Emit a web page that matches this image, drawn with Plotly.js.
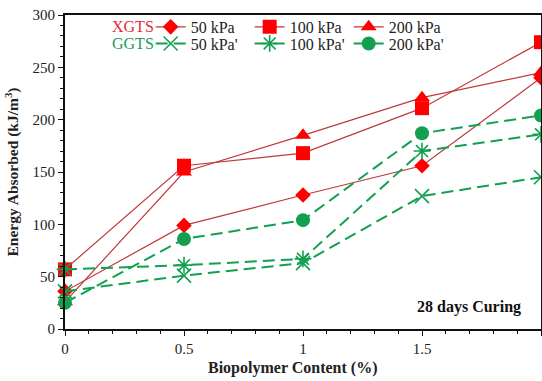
<!DOCTYPE html>
<html>
<head>
<meta charset="utf-8">
<script src="https://cdn.plot.ly/plotly-3.0.1.min.js"></script>
<style>html,body{margin:0;padding:0;background:#fff;}#chart{width:542px;height:381px;}</style>
</head>
<body>
<div id="chart"></div>
<script>
// Data
var content = [0, 0.5, 1, 1.5, 2];
var xg50  = [36, 99, 128, 156, 240];
var xg100 = [57, 156, 168, 211, 274];
var xg200 = [26, 150, 185, 221, 245];
var gg50  = [36, 51, 63, 127, 145];
var gg100 = [57, 61, 67, 170, 186];
var gg200 = [25, 86, 104, 187, 204];
var seriesNames = ['50 kPa', '100 kPa', '200 kPa', "50 kPa'", "100 kPa'", "200 kPa'"];
var groupLabels = ['XGTS', 'GGTS'];

var RED = '#ff0000', REDLINE = '#c0393b', GREEN = '#12a050';
var FONT = 'Liberation Serif, Times New Roman, serif';

function xTrace(y, name, sym, size) {
  return {x: content, y: y, name: name, type: 'scatter', mode: 'lines+markers',
    legend: 'legend', cliponaxis: false,
    line: {color: REDLINE, width: 1.2},
    marker: {symbol: sym, size: size, color: RED, line: {width: 0}}};
}
function gTrace(y, name, sym, size, open) {
  return {x: content, y: y, name: name, type: 'scatter', mode: 'lines+markers',
    legend: 'legend2', cliponaxis: false,
    line: {color: GREEN, width: 2, dash: '12px,6px'},
    marker: open ? {symbol: sym, size: size, color: GREEN, line: {color: GREEN, width: 1.6}}
                 : {symbol: sym, size: size, color: GREEN, line: {width: 0}}};
}

var traces = [
  xTrace(xg50, seriesNames[0], 'diamond', 12),
  xTrace(xg100, seriesNames[1], 'square', 14),
  xTrace(xg200, seriesNames[2], 'triangle-up', 14),
  gTrace(gg50, seriesNames[3], 'x-thin-open', 14, true),
  gTrace(gg100, seriesNames[4], 'asterisk-open', 14, true),
  gTrace(gg200, seriesNames[5], 'circle', 14, false)
];

function legendCfg(y) {
  return {
    orientation: 'h', x: 0.18, y: y, xanchor: 'left', yanchor: 'middle',
    bgcolor: 'rgba(0,0,0,0)', borderwidth: 0,
    entrywidth: 54, entrywidthmode: 'pixels', itemwidth: 30,
    font: {family: FONT, size: 16, color: '#222'}
  };
}

var layout = {
  width: 542, height: 381,
  margin: {l: 65, r: 1, t: 15, b: 52},
  paper_bgcolor: '#fff', plot_bgcolor: '#fff',
  font: {family: FONT, size: 15, color: '#222'},
  showlegend: true,
  legend: legendCfg(0.962),
  legend2: legendCfg(0.909),
  xaxis: {
    range: [0, 2], dtick: 0.5, tick0: 0, showgrid: false, zeroline: false,
    showline: true, linecolor: '#111', linewidth: 2, mirror: true,
    ticks: 'outside', ticklen: 5, tickwidth: 1, tickcolor: '#111',
    minor: {dtick: 0.1, ticks: 'outside', ticklen: 3, tickwidth: 1, tickcolor: '#111'},
    tickfont: {family: FONT, size: 15, color: '#222'}
  },
  yaxis: {
    range: [0, 300], dtick: 50, showgrid: false, zeroline: false,
    showline: true, linecolor: '#111', linewidth: 2, mirror: true,
    ticks: 'outside', ticklen: 5, tickwidth: 1, tickcolor: '#111',
    minor: {dtick: 10, ticks: 'outside', ticklen: 3, tickwidth: 1, tickcolor: '#111'},
    tickfont: {family: FONT, size: 15, color: '#222'},
    title: {text: '<b>Energy Absorbed (kJ/m<sup>3</sup>)</b>', font: {family: FONT, size: 15.5, color: '#222'}, standoff: 10}
  },
  annotations: [
    {text: groupLabels[0], xref: 'paper', yref: 'paper', x: 0.0945, y: 0.962,
     xanchor: 'left', yanchor: 'middle', showarrow: false,
     font: {family: FONT, size: 16, color: '#e0303a'}},
    {text: groupLabels[1], xref: 'paper', yref: 'paper', x: 0.0945, y: 0.909,
     xanchor: 'left', yanchor: 'middle', showarrow: false,
     font: {family: FONT, size: 16, color: '#1a9b5a'}},
    {text: '<b>Biopolymer Content (%)</b>', xref: 'paper', yref: 'paper', x: 0.477, y: -0.124,
     xanchor: 'center', yanchor: 'middle', showarrow: false,
     font: {family: FONT, size: 16, color: '#222'}},
    {text: '<b>28 days Curing</b>', xref: 'paper', yref: 'paper', x: 0.962, y: 0.07,
     xanchor: 'right', yanchor: 'middle', showarrow: false,
     font: {family: FONT, size: 16, color: '#111'}}
  ]
};

Plotly.newPlot('chart', traces, layout, {displayModeBar: false, staticPlot: true});
</script>
</body>
</html>
